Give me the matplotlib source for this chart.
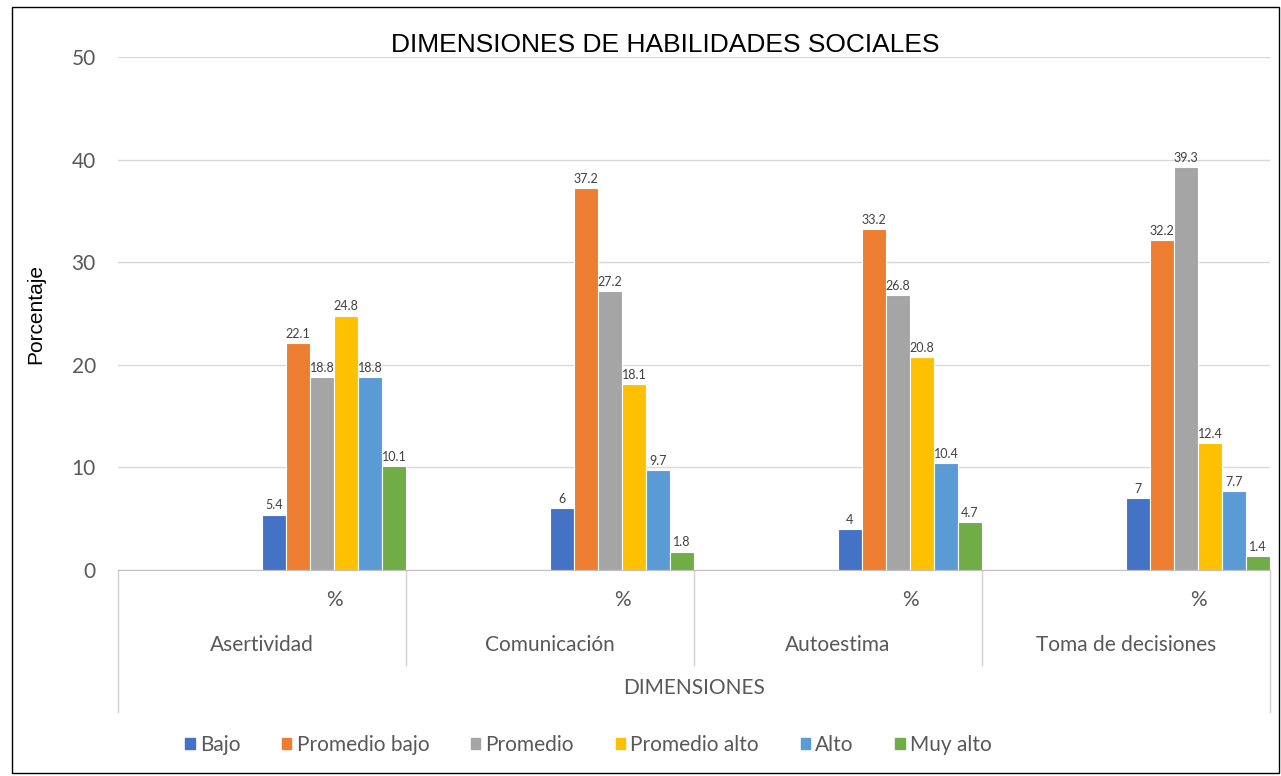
import numpy as np
import matplotlib.pyplot as plt
from matplotlib.patches import Patch
import matplotlib.transforms as mtransforms

# datos
categorias = ["Asertividad", "Comunicación", "Autoestima", "Toma de decisiones"]
niveles = ["Bajo", "Promedio bajo", "Promedio", "Promedio alto", "Alto", "Muy alto"]
bajo = [5.4, 6, 4, 7]
promedio_bajo = [22.1, 37.2, 33.2, 32.2]
promedio = [18.8, 27.2, 26.8, 39.3]
promedio_alto = [24.8, 18.1, 20.8, 12.4]
alto = [18.8, 9.7, 10.4, 7.7]
muy_alto = [10.1, 1.8, 4.7, 1.4]
series = [bajo, promedio_bajo, promedio, promedio_alto, alto, muy_alto]
colores = ["#4472C4", "#ED7D31", "#A5A5A5", "#FFC000", "#5B9BD5", "#70AD47"]

fuente = "Lato"
gris = "#595959"
tam = 15

fig = plt.figure(figsize=(12.81, 7.76), dpi=100)
ax = fig.add_axes([0.0921, 0.2655, 0.8993, 0.661])

# cada dimension tiene 2 subcategorias ("" y "%"), solo "%" tiene datos
n = len(series)
ancho = 1.0 / n
centros = np.arange(len(categorias)) * 2 + 1.5
for i, (vals, col) in enumerate(zip(series, colores)):
    xs = centros - 0.5 + ancho * (i + 0.5)
    ax.bar(xs, vals, width=ancho, color=col, edgecolor="white", linewidth=0.8,
           label=niveles[i], zorder=3)
    for x, v in zip(xs, vals):
        ax.text(x, v + 0.3, f"{v:g}", ha="center", va="bottom",
                fontsize=9, color="#404040", family=fuente, zorder=4)

ax.set_xlim(0, 8)
ax.set_ylim(0, 50)
ax.set_yticks(range(0, 51, 10))
ax.tick_params(axis="y", length=0, labelsize=tam, labelcolor=gris, pad=16)
for lb in ax.get_yticklabels():
    lb.set_family(fuente)
ax.set_xticks([])
ax.grid(axis="y", color="#d9d9d9", linewidth=1, zorder=0)
for s in ["top", "right", "left"]:
    ax.spines[s].set_visible(False)
ax.spines["bottom"].set_color("#bfbfbf")

# eje de categorias en varios niveles
trans = mtransforms.blended_transform_factory(ax.transData, ax.transAxes)
lc = "#d0d0d0"
for xb in [2, 4, 6]:
    ax.plot([xb, xb], [0, -0.185], color=lc, lw=1, transform=trans, clip_on=False)
for xb in [0, 8]:
    ax.plot([xb, xb], [0, -0.277], color=lc, lw=1, transform=trans, clip_on=False)
for k, c in enumerate(categorias):
    ax.text(centros[k], -0.058, "%", transform=trans, ha="center", va="center",
            fontsize=tam, color=gris, family=fuente)
    ax.text(2 * k + 1, -0.146, c, transform=trans, ha="center", va="center",
            fontsize=tam, color=gris, family=fuente)
ax.text(4, -0.230, "DIMENSIONES", transform=trans, ha="center", va="center",
        fontsize=tam, color=gris, family=fuente)

ax.set_ylabel("Porcentaje", fontsize=15, family="Liberation Sans", labelpad=19)
ax.set_title("DIMENSIONES DE HABILIDADES SOCIALES", fontsize=19,
             family="Liberation Sans", pad=0, x=0.475)

handles = [Patch(color=c, label=l) for c, l in zip(colores, niveles)]
leg = fig.legend(handles=handles, loc="center", bbox_to_anchor=(0.4594, 0.04),
                 ncol=6, frameon=False, handlelength=0.45, handleheight=0.45,
                 handletextpad=0.25, columnspacing=2.0,
                 prop={"family": fuente, "size": tam})
for t in leg.get_texts():
    t.set_color(gris)

# marco exterior
fig.patches.append(plt.Rectangle((12 / 1281, 3 / 776), 1267 / 1281, 766 / 776,
                                 transform=fig.transFigure, fill=False,
                                 edgecolor="black", linewidth=1))

fig.savefig("out.png", dpi=100)
